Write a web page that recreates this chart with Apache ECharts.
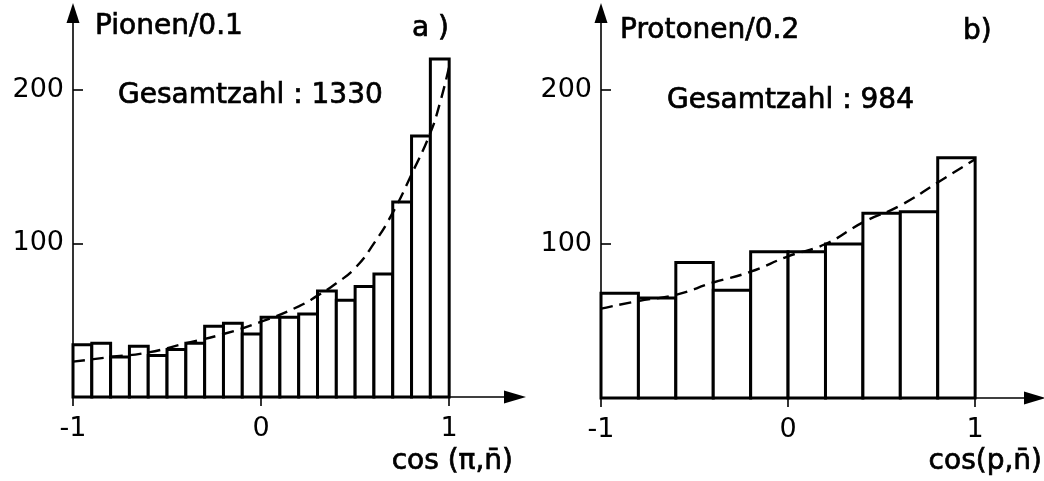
<!DOCTYPE html>
<html>
<head>
<meta charset="utf-8">
<script src="https://cdn.jsdelivr.net/npm/echarts@6.0.0/dist/echarts.min.js"></script>
<style>
  html, body { margin: 0; padding: 0; background: #fff; }
  #main { width: 1044px; height: 481px; }
</style>
</head>
<body>
<div id="main"></div>
<script>
// a) Pionen, Klassenbreite 0.1
var pionEdges = [-1.0, -0.9, -0.8, -0.7, -0.6, -0.5, -0.4, -0.3, -0.2, -0.1, 0.0,
                 0.1, 0.2, 0.3, 0.4, 0.5, 0.6, 0.7, 0.8, 0.9, 1.0];
var pionCounts = [34, 35, 26, 33, 27, 31, 35, 46, 48, 41, 52, 52, 54, 69, 63, 72, 80, 127, 170, 220];
var pionFitX = [-1, -0.8, -0.6, -0.4, -0.2, 0, 0.2, 0.3, 0.4, 0.5, 0.6, 0.7, 0.8, 0.9, 0.95, 1];
var pionFitY = [23, 26, 29, 35, 41, 49, 59, 66, 74, 84, 100, 120, 145, 172, 191, 215];

// b) Protonen, Klassenbreite 0.2
var protonEdges = [-1.0, -0.8, -0.6, -0.4, -0.2, 0.0, 0.2, 0.4, 0.6, 0.8, 1.0];
var protonCounts = [68, 65, 88, 70, 95, 95, 100, 120, 121, 156];
var protonFitX = [-1, -0.8, -0.6, -0.4, -0.2, 0, 0.2, 0.4, 0.6, 0.8, 1];
var protonFitY = [58, 63, 67, 75, 82, 92, 100, 114, 125, 140, 155];

var xTicks = [-1, 0, 1];
var yTicks = [100, 200];

var FONT = 'DejaVu Sans';

function histData(edges, counts) {
    var out = [];
    for (var i = 0; i < counts.length; i++) {
        out.push([edges[i], edges[i + 1], counts[i]]);
    }
    return out;
}

function fitData(xs, ys) {
    return xs.map(function (x, i) { return [x, ys[i]]; });
}

function renderBin(params, api) {
    var top = api.coord([api.value(0), api.value(2)]);
    var bot = api.coord([api.value(1), 0]);
    return {
        type: 'rect',
        shape: { x: top[0], y: top[1], width: bot[0] - top[0], height: bot[1] - top[1] },
        style: { fill: '#fff', stroke: '#000', lineWidth: 3 }
    };
}

function xAxisOpt(idx, max) {
    return {
        type: 'value', gridIndex: idx, min: -1, max: max,
        splitLine: { show: false },
        axisLine: { onZero: false, symbol: ['none', 'triangle'], symbolSize: [13, 22],
                    lineStyle: { color: '#000', width: 1.6 } },
        axisTick: { customValues: xTicks, length: 9, lineStyle: { color: '#000', width: 1.6 } },
        axisLabel: { customValues: xTicks, margin: 18, color: '#000', fontSize: 27, fontFamily: FONT }
    };
}

function yAxisOpt(idx) {
    return {
        type: 'value', gridIndex: idx, min: 0, max: 250,
        splitLine: { show: false },
        axisLine: { onZero: false, symbol: ['none', 'triangle'], symbolSize: [13, 20],
                    lineStyle: { color: '#000', width: 1.6 } },
        axisTick: { customValues: yTicks, inside: true, length: 10, lineStyle: { color: '#000', width: 1.6 } },
        axisLabel: { customValues: yTicks, margin: 9, color: '#000', fontSize: 27, fontFamily: FONT }
    };
}

function txt(x, y, s, align) {
    return {
        type: 'text', x: x, y: y,
        style: { text: s, fill: '#000', fontSize: 28, fontFamily: FONT,
                 stroke: '#000', lineWidth: 0.7,
                 align: align || 'left', verticalAlign: 'middle' }
    };
}

var myChart = echarts.init(document.getElementById('main'));

var option = {
    backgroundColor: '#fff',
    animation: false,
    grid: [
        { left: 73, top: 13, width: 442, height: 384 },
        { left: 601, top: 13, width: 434, height: 385 }
    ],
    xAxis: [xAxisOpt(0, 1.35), xAxisOpt(1, 1.32)],
    yAxis: [yAxisOpt(0), yAxisOpt(1)],
    graphic: [
        txt(95, 27, 'Pionen/0.1'),
        txt(412, 29, 'a )'),
        txt(118, 96, 'Gesamtzahl : 1330'),
        txt(513, 462, 'cos (\u03c0,n\u0304)', 'right'),
        txt(620, 31, 'Protonen/0.2'),
        txt(963, 32, 'b)'),
        txt(667, 101, 'Gesamtzahl : 984'),
        txt(1042, 462, 'cos(p,n\u0304)', 'right')
    ],
    series: [
        {
            type: 'custom', xAxisIndex: 0, yAxisIndex: 0,
            renderItem: renderBin,
            encode: { x: [0, 1], y: 2 },
            data: histData(pionEdges, pionCounts)
        },
        {
            type: 'line', xAxisIndex: 0, yAxisIndex: 0,
            data: fitData(pionFitX, pionFitY),
            smooth: true, showSymbol: false, z: 5,
            lineStyle: { color: '#000', width: 2.4, type: [12, 7] }
        },
        {
            type: 'custom', xAxisIndex: 1, yAxisIndex: 1,
            renderItem: renderBin,
            encode: { x: [0, 1], y: 2 },
            data: histData(protonEdges, protonCounts)
        },
        {
            type: 'line', xAxisIndex: 1, yAxisIndex: 1,
            data: fitData(protonFitX, protonFitY),
            smooth: true, showSymbol: false, z: 5,
            lineStyle: { color: '#000', width: 2.4, type: [12, 7] }
        }
    ]
};

myChart.setOption(option);
</script>
</body>
</html>
